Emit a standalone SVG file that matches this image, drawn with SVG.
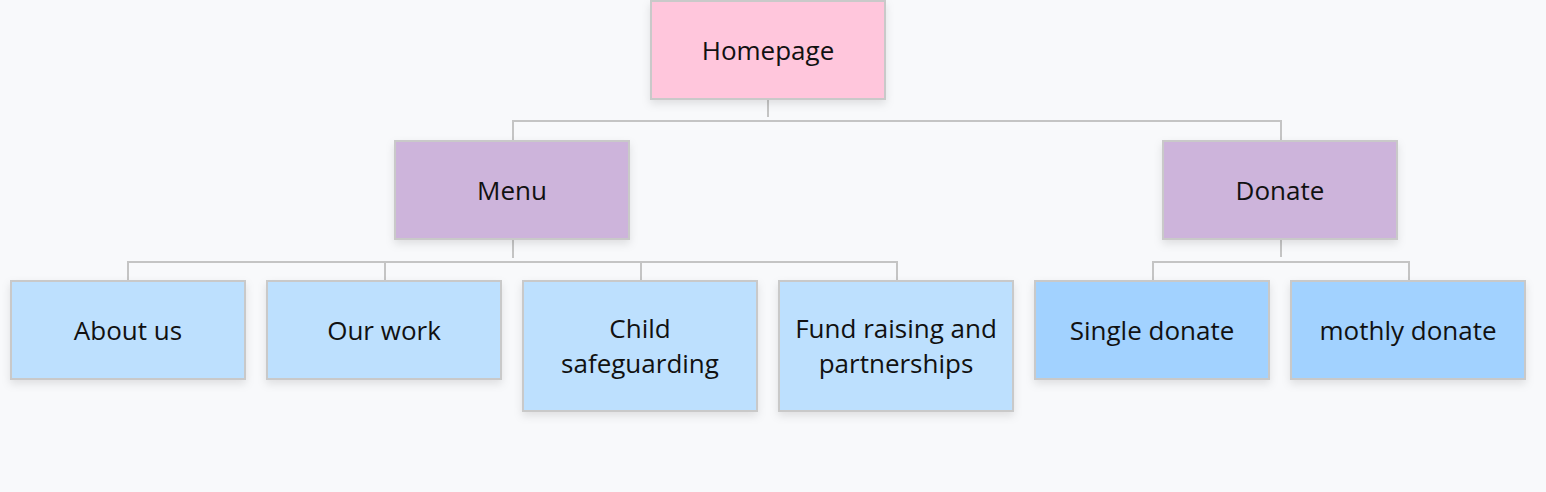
<svg xmlns="http://www.w3.org/2000/svg" width="1546" height="492" viewBox="0 0 1546 492">
<style>
.node rect{stroke:#c9c9c9;stroke-width:2;filter:url(#sh)}
.node text{font-family:"Open Sans","Noto Sans",sans-serif;font-size:26px;fill:#111;text-anchor:middle}
.root rect{fill:#ffc6dc}
.l2 rect{fill:#cdb4db}
.l3 rect{fill:#bde0fe}
.l3b rect{fill:#a2d2ff}
#connectors path{fill:none;stroke:#c4c4c4;stroke-width:2}
</style>
<defs>
<filter id="sh" x="-10%" y="-10%" width="125%" height="135%">
<feDropShadow dx="0" dy="4" stdDeviation="4" flood-color="#000" flood-opacity="0.10"/>
</filter>
</defs>
<rect width="1546" height="492" fill="#f8f9fb"/>
<g id="connectors">
<path d="M768 99V117M513 141V121H1281V141"/>
<path d="M513 239V258M128 281V262H897V281M385 262V281M641 262V281"/>
<path d="M1281 239V257M1153 281V262H1409V281"/>
</g>
<g id="homepage" class="node root"><rect x="651" y="1" width="234" height="98"/><text x="768" y="60">Homepage</text></g>
<g id="menu" class="node l2"><rect x="395" y="141" width="234" height="98"/><text x="512" y="200">Menu</text></g>
<g id="donate" class="node l2"><rect x="1163" y="141" width="234" height="98"/><text x="1280" y="200">Donate</text></g>
<g id="about" class="node l3"><rect x="11" y="281" width="234" height="98"/><text x="128" y="340">About us</text></g>
<g id="ourwork" class="node l3"><rect x="267" y="281" width="234" height="98"/><text x="384" y="340">Our work</text></g>
<g id="child" class="node l3"><rect x="523" y="281" width="234" height="130"/><text x="640" y="338">Child</text><text x="640" y="373">safeguarding</text></g>
<g id="fund" class="node l3"><rect x="779" y="281" width="234" height="130"/><text x="896" y="338">Fund raising and</text><text x="896" y="373">partnerships</text></g>
<g id="single" class="node l3b"><rect x="1035" y="281" width="234" height="98"/><text x="1152" y="340">Single donate</text></g>
<g id="monthly" class="node l3b"><rect x="1291" y="281" width="234" height="98"/><text x="1408" y="340">mothly donate</text></g>
</svg>
